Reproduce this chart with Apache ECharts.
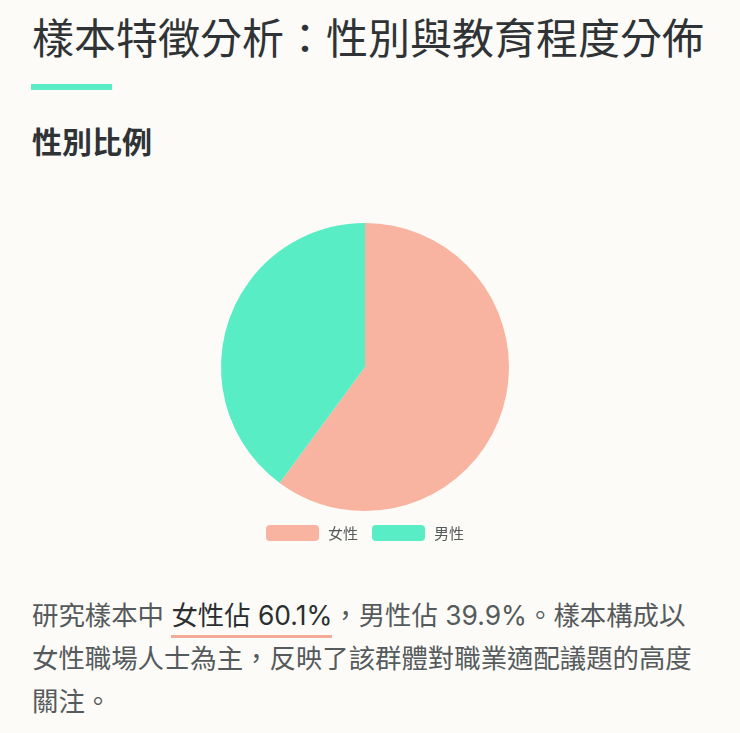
<!DOCTYPE html>
<html>
<head>
<meta charset="utf-8">
<script src="https://cdn.jsdelivr.net/npm/echarts@6/dist/echarts.min.js"></script>
<style>
  html, body { margin: 0; padding: 0; background: #fcfbf7; }
  body { width: 740px; height: 733px; position: relative; overflow: hidden;
         font-family: "Noto Sans CJK TC", "Noto Sans", sans-serif; }
  #title { position: absolute; left: 32px; top: 10px; margin: 0; font-size: 42px; font-weight: 400;
           color: #2f3335; line-height: 52px; white-space: nowrap; }
  #bar { position: absolute; left: 31px; top: 84px; width: 81px; height: 6px; background: #58edc5; }
  #sub { position: absolute; left: 32px; top: 120px; margin: 0; font-size: 30px; font-weight: 700;
         color: #2f3335; line-height: 40px; }
  #chart { position: absolute; left: 32px; top: 170px; width: 666px; height: 390px; }
  #para { position: absolute; left: 32px; top: 594px; width: 668px; margin: 0; font-size: 26.4px;
          line-height: 43px; color: #555a5c; font-family: "Inter", "Noto Sans CJK TC", sans-serif; }
  #para .hl { color: #2b2f31; border-bottom: 3px solid #f5aa98; padding-bottom: 4px; }
</style>
</head>
<body>
<h1 id="title">樣本特徵分析：性別與教育程度分佈</h1>
<div id="bar"></div>
<h2 id="sub">性別比例</h2>
<div id="chart"></div>
<p id="para">研究樣本中 <span class="hl">女性佔 60.1%</span>，男性佔 39.9%。樣本構成以女性職場人士為主，反映了該群體對職業適配議題的高度關注。</p>
<script>
const categories = ["女性", "男性"];
const values = [60.1, 39.9];
const colors = ["#f8b4a0", "#58edc5"];

const chart = echarts.init(document.getElementById('chart'), null, { renderer: 'canvas' });
chart.setOption({
  animation: false,
  color: colors,
  legend: {
    data: categories,
    top: 350,
    left: 'center',
    itemWidth: 53,
    itemHeight: 16,
    itemGap: 14,
    textStyle: { fontSize: 15, color: '#555a5c', padding: [0, 0, 0, 4],
                 fontFamily: '"Noto Sans CJK TC", sans-serif' }
  },
  series: [{
    type: 'pie',
    center: [333, 197],
    radius: 144,
    startAngle: 90,
    label: { show: false },
    labelLine: { show: false },
    emphasis: { disabled: true },
    itemStyle: { borderWidth: 0 },
    data: categories.map((c, i) => ({ name: c, value: values[i] }))
  }]
});
</script>
</body>
</html>
